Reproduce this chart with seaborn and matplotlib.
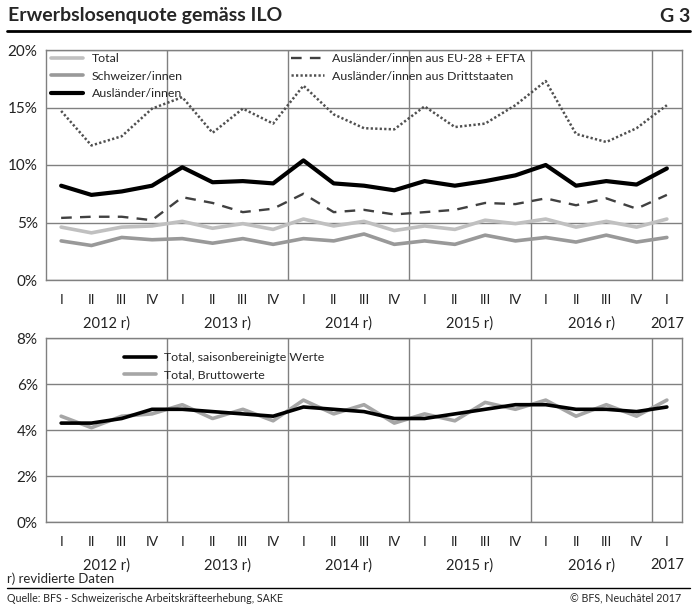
import numpy as np
import pandas as pd
import matplotlib
matplotlib.use("Agg")
import matplotlib.pyplot as plt
import matplotlib.transforms as mtransforms
from matplotlib.lines import Line2D
import seaborn as sns

# ---------------- data ----------------
quarters = ["I", "II", "III", "IV"] * 5 + ["I"]
years = ["2012 r)", "2013 r)", "2014 r)", "2015 r)", "2016 r)", "2017"]

total = [4.6, 4.1, 4.6, 4.7, 5.1, 4.5, 4.9, 4.4, 5.3, 4.7, 5.1,
         4.3, 4.7, 4.4, 5.2, 4.9, 5.3, 4.6, 5.1, 4.6, 5.3]
schweizer = [3.4, 3.0, 3.7, 3.5, 3.6, 3.2, 3.6, 3.1, 3.6, 3.4, 4.0,
             3.1, 3.4, 3.1, 3.9, 3.4, 3.7, 3.3, 3.9, 3.3, 3.7]
auslaender = [8.2, 7.4, 7.7, 8.2, 9.8, 8.5, 8.6, 8.4, 10.4, 8.4, 8.2,
              7.8, 8.6, 8.2, 8.6, 9.1, 10.0, 8.2, 8.6, 8.3, 9.7]
eu_efta = [5.4, 5.5, 5.5, 5.2, 7.2, 6.7, 5.9, 6.2, 7.5, 5.9, 6.1,
           5.7, 5.9, 6.1, 6.7, 6.6, 7.1, 6.5, 7.1, 6.2, 7.4]
dritt = [14.7, 11.7, 12.5, 14.9, 15.9, 12.8, 14.9, 13.6, 16.9, 14.4, 13.2,
         13.1, 15.1, 13.3, 13.6, 15.2, 17.3, 12.7, 12.0, 13.2, 15.2]

saison = [4.3, 4.3, 4.5, 4.9, 4.9, 4.8, 4.7, 4.6, 5.0, 4.9, 4.8,
          4.5, 4.5, 4.7, 4.9, 5.1, 5.1, 4.9, 4.9, 4.8, 5.0]
brutto = total

top_yticks = [0, 5, 10, 15, 20]
bot_yticks = [0, 2, 4, 6, 8]

# ---------------- style ----------------
sns.set_theme(style="white")
plt.rcParams["font.family"] = ["Lato", "DejaVu Sans"]
NARROW = ["Lato", "DejaVu Sans"]

W, H = 697, 607
fig = plt.figure(figsize=(W / 100, H / 100), dpi=100)

def ax_rect(l, r, t, b):
    return [l / W, 1 - b / H, (r - l) / W, (b - t) / H]

ax1 = fig.add_axes(ax_rect(46, 682, 50, 280))
ax2 = fig.add_axes(ax_rect(46, 682, 338, 522))

x = np.arange(len(quarters))
GRID = "#808080"

def style_axis(ax, yticks):
    ax.set_xlim(-0.5, len(quarters) - 0.5)
    ax.set_ylim(yticks[0], yticks[-1])
    ax.set_yticks(yticks)
    ax.set_yticklabels([f"{v}%" for v in yticks], fontsize=11, color="#222222")
    ax.tick_params(axis="y", length=0, pad=6)
    bounds = [3.5, 7.5, 11.5, 15.5, 19.5]
    ax.set_xticks(bounds)
    ax.set_xticklabels([""] * len(bounds))
    ax.tick_params(axis="x", which="major", length=7, width=1, color=GRID, direction="out")
    ax.set_xticks(x, minor=True)
    ax.set_xticklabels(quarters, minor=True, fontsize=10, color="#222222")
    ax.tick_params(axis="x", which="minor", length=0, pad=10)
    ax.grid(True, which="major", axis="both", color=GRID, lw=1)
    for s in ax.spines.values():
        s.set_color(GRID)
        s.set_linewidth(1)
    ax.set_xlabel("")
    ax.set_ylabel("")
    trans = mtransforms.blended_transform_factory(ax.transData, ax.transAxes)
    centers = [1.5, 5.5, 9.5, 13.5, 17.5, 20]
    for c, lab in zip(centers, years):
        ax.text(c, -0.19 if yticks[-1] == 20 else -0.235, lab, transform=trans,
                ha="center", va="center", fontsize=10.5, family=NARROW, color="#222222")

# ---------------- top chart ----------------
sns.lineplot(x=x, y=total, ax=ax1, color="#c0c0c0", lw=2.6, label="Total")
sns.lineplot(x=x, y=schweizer, ax=ax1, color="#999999", lw=2.6, label="Schweizer/innen")
sns.lineplot(x=x, y=auslaender, ax=ax1, color="#000000", lw=3.0, label="Ausländer/innen")
sns.lineplot(x=x, y=eu_efta, ax=ax1, color="#404040", lw=1.7, dashes=False,
             label="Ausländer/innen aus EU-28 + EFTA")
sns.lineplot(x=x, y=dritt, ax=ax1, color="#505050", lw=1.8, dashes=False,
             label="Ausländer/innen aus Drittstaaten")
lines = ax1.get_lines()
lines[3].set_dashes((4.5, 3.5))
lines[4].set_dashes((0.9, 0.9))
style_axis(ax1, top_yticks)

handles, labels = ax1.get_legend_handles_labels()
leg_kw = dict(frameon=False, fontsize=8.9, handlelength=2.6, handletextpad=0.7,
              labelspacing=0.52, borderpad=0, borderaxespad=0, loc="upper left")
leg1 = ax1.legend(handles[:3], labels[:3], bbox_to_anchor=(0.008, 0.986), **leg_kw)
ax1.add_artist(leg1)
leg1b = ax1.legend(handles[3:], labels[3:], bbox_to_anchor=(0.386, 0.986), **leg_kw)

# ---------------- bottom chart ----------------
sns.lineplot(x=x, y=brutto, ax=ax2, color="#a6a6a6", lw=2.6, label="Total, Bruttowerte")
sns.lineplot(x=x, y=saison, ax=ax2, color="#000000", lw=2.6, label="Total, saisonbereinigte Werte")
style_axis(ax2, bot_yticks)
h2, l2 = ax2.get_legend_handles_labels()
ax2.legend([h2[1], h2[0]], [l2[1], l2[0]], bbox_to_anchor=(0.122, 0.922), **leg_kw)

# ---------------- header / footer ----------------
fig.text(8 / W, 1 - 16 / H, "Erwerbslosenquote gemäss ILO", fontsize=14,
         fontweight="bold", family=NARROW, va="center", ha="left")
fig.text(690 / W, 1 - 16 / H, "G 3", fontsize=14, fontweight="bold",
         family=NARROW, va="center", ha="right")
fig.add_artist(Line2D([7 / W, 690 / W], [1 - 31 / H] * 2, lw=2, color="black"))

fig.text(7 / W, 1 - 579 / H, "r) revidierte Daten", fontsize=9.5, family=NARROW,
         va="center", ha="left")
fig.add_artist(Line2D([7 / W, 690 / W], [1 - 588 / H] * 2, lw=1, color="black"))
fig.text(7 / W, 1 - 598 / H, "Quelle: BFS - Schweizerische Arbeitskräfteerhebung, SAKE",
         fontsize=7.7, family=NARROW, va="center", ha="left")
fig.text(681 / W, 1 - 598 / H, "© BFS, Neuchâtel 2017", fontsize=7.7,
         family=NARROW, va="center", ha="right")

fig.savefig("out.png", dpi=100)
